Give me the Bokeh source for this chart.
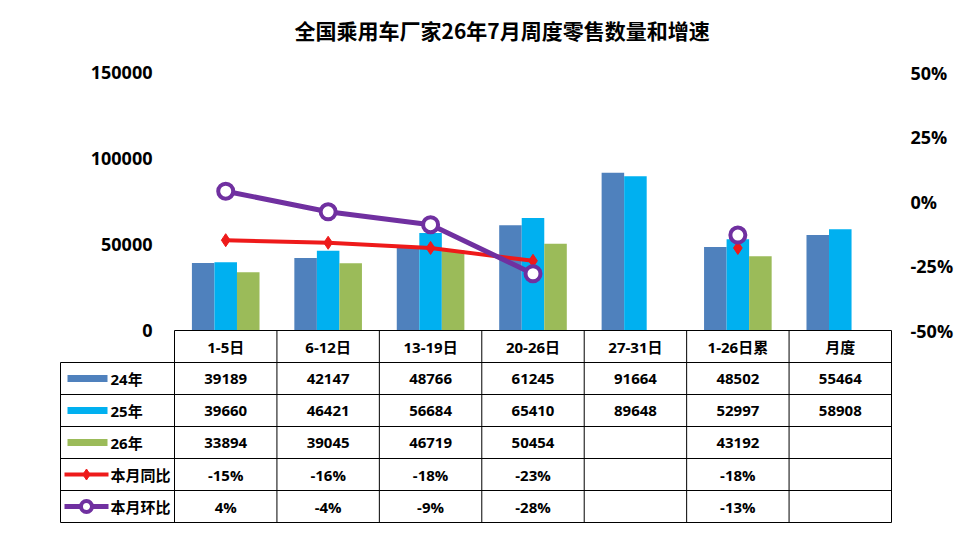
import math
from bokeh.plotting import figure
from bokeh.models import (Range1d, LinearAxis, FixedTicker, ColumnDataSource,
                          CustomJSTickFormatter, NumeralTickFormatter)
from bokeh.core.properties import value
from bokeh.embed import file_html
from bokeh.resources import INLINE

# ---------------- data ----------------
categories = ["1-5日", "6-12日", "13-19日", "20-26日", "27-31日", "1-26日累", "月度"]
series_names = ["24年", "25年", "26年"]
sales_24 = [39189, 42147, 48766, 61245, 91664, 48502, 55464]
sales_25 = [39660, 46421, 56684, 65410, 89648, 52997, 58908]
sales_26 = [33894, 39045, 46719, 50454, None, 43192, None]
yoy_pct = [-15, -16, -18, -23, None, -18, None]     # 本月同比
mom_pct = [4, -4, -9, -28, None, -13, None]          # 本月环比
line_names = ["本月同比", "本月环比"]
left_ticks = [0, 50000, 100000, 150000]
right_ticks = [-50, -25, 0, 25, 50]
title_text = "全国乘用车厂家26年7月周度零售数量和增速"

# ---------------- style / geometry (pixels) ----------------
C24, C25, C26 = "#4F81BD", "#00B0F0", "#9BBB59"
RED, PURPLE = "#EE1A1A", "#7030A0"
NUM_FONT = "'Open Sans', 'Noto Sans CJK SC', sans-serif"
CJK_FONT = "'Noto Sans CJK SC', sans-serif"

W, H = 961, 533
X0, X_END = 174, 891            # category area
NCAT = len(categories)
CW = (X_END - X0) / NCAT
Y_BASE, Y_TOP = 330, 72         # value 0 and value 150000
ROW = 32
NROWS = 6
FL, FR, FT, FB = 56, 894, 50, 524
YMAX = left_ticks[-1]
VPP = YMAX / (Y_BASE - Y_TOP)
PPP = (right_ticks[-1] - right_ticks[0]) / (Y_BASE - Y_TOP)


def xd(px):
    return (px - X0) / CW


p = figure(width=W, height=H, output_backend="svg", toolbar_location=None,
           x_range=Range1d(xd(FL), xd(FR)),
           y_range=Range1d(-(FB - Y_BASE) * VPP, YMAX + (Y_TOP - FT) * VPP),
           min_border_left=FL, min_border_right=W - FR,
           min_border_top=FT, min_border_bottom=H - FB,
           x_axis_location=None, y_axis_location="left")
p.extra_y_ranges = {
    "pct": Range1d(right_ticks[0] - (FB - Y_BASE) * PPP, right_ticks[-1] + (Y_TOP - FT) * PPP),
    "tbl": Range1d((FB - Y_BASE) / ROW, -(Y_BASE - FT) / ROW),
}
p.grid.visible = False
p.outline_line_color = None
p.background_fill_color = "white"
p.border_fill_color = "white"

# title
p.title.text = title_text
p.title.text_font = CJK_FONT
p.title.text_font_size = "21px"
p.title.text_font_style = "bold"
p.title.text_color = "black"
p.title.align = "left"
p.title.offset = 294 - FL
p.title.standoff = 11

# left axis
ax = p.yaxis[0]
ax.ticker = FixedTicker(ticks=left_ticks)
ax.formatter = NumeralTickFormatter(format="0")
ax.fixed_location = 0
ax.axis_line_color = None
ax.major_tick_line_color = None
ax.minor_tick_line_color = None
ax.major_tick_out = 0
ax.major_tick_in = 0
ax.major_label_standoff = X0 - 152
ax.major_label_text_font = NUM_FONT
ax.major_label_text_font_size = "18px"
ax.major_label_text_font_style = "bold"
ax.major_label_text_color = "black"

# right axis
rax = LinearAxis(y_range_name="pct", ticker=FixedTicker(ticks=right_ticks),
                 formatter=CustomJSTickFormatter(code="return tick + '%';"))
rax.axis_line_color = None
rax.major_tick_line_color = None
rax.minor_tick_line_color = None
rax.major_tick_out = 0
rax.major_tick_in = 0
rax.major_label_standoff = 910 - FR
rax.major_label_text_font = NUM_FONT
rax.major_label_text_font_size = "18px"
rax.major_label_text_font_style = "bold"
rax.major_label_text_color = "black"
p.add_layout(rax, "right")

# ---------------- bars ----------------
BW = 0.22
for k, (vals, col) in enumerate(zip([sales_24, sales_25, sales_26], [C24, C25, C26])):
    xs = [i + 0.5 + (k - 1) * BW for i, v in enumerate(vals) if v is not None]
    ts = [v for v in vals if v is not None]
    p.vbar(x=xs, top=ts, bottom=0, width=BW, fill_color=col, line_color=None)

# ---------------- lines ----------------
def nanify(a):
    return [float("nan") if v is None else v for v in a]

xc = [i + 0.5 for i in range(NCAT)]
p.line(xc, nanify(yoy_pct), y_range_name="pct", line_color=RED, line_width=4)
p.scatter([x for x, v in zip(xc, yoy_pct) if v is not None], [v for v in yoy_pct if v is not None],
          y_range_name="pct", marker="diamond", size=13, fill_color=RED, line_color=RED)
p.line(xc, nanify(mom_pct), y_range_name="pct", line_color=PURPLE, line_width=5)
p.scatter([x for x, v in zip(xc, mom_pct) if v is not None], [v for v in mom_pct if v is not None],
          y_range_name="pct", marker="circle", size=15, fill_color="white", line_color=PURPLE, line_width=4)

# ---------------- table ----------------
XL = xd(60)
hx0 = [0] + [XL] * NROWS
hx1 = [NCAT] * (NROWS + 1)
hy = list(range(NROWS + 1))
p.segment(x0=hx0, y0=hy, x1=hx1, y1=hy, y_range_name="tbl", line_color="black", line_width=1)
vx = [XL] + list(range(NCAT + 1))
vy0 = [1] + [0] * (NCAT + 1)
vy1 = [NROWS] * (NCAT + 2)
p.segment(x0=vx, y0=vy0, x1=vx, y1=vy1, y_range_name="tbl", line_color="black", line_width=1)

tx, ty, tt = [], [], []
for i, c in enumerate(categories):
    tx.append(i + 0.5); ty.append(0.5); tt.append(c)
for r, vals in enumerate([sales_24, sales_25, sales_26]):
    for i, v in enumerate(vals):
        if v is not None:
            tx.append(i + 0.5); ty.append(r + 1.5); tt.append(str(v))
for r, vals in enumerate([yoy_pct, mom_pct]):
    for i, v in enumerate(vals):
        if v is not None:
            tx.append(i + 0.5); ty.append(r + 4.5); tt.append(f"{v}%")
src = ColumnDataSource(dict(x=tx, y=ty, t=tt))
p.text(x="x", y="y", text="t", source=src, y_range_name="tbl",
       text_align="center", text_baseline="middle", text_font=value(NUM_FONT),
       text_font_size="15px", text_font_style="bold", text_color="black")

lab_names = series_names + line_names
p.text(x=[xd(110)] * len(lab_names), y=[r + 1.5 for r in range(len(lab_names))], text=lab_names,
       y_range_name="tbl", text_align="left", text_baseline="middle",
       text_font=value(NUM_FONT), text_font_size="15px", text_font_style="bold", text_color="black")

sw_h = 7 / ROW
p.quad(left=[xd(67)] * 3, right=[xd(107)] * 3,
       bottom=[r + 1.5 + sw_h / 2 for r in range(3)], top=[r + 1.5 - sw_h / 2 for r in range(3)],
       y_range_name="tbl", fill_color=[C24, C25, C26], line_color=None)
p.segment(x0=[xd(64)] * 2, x1=[xd(108)] * 2, y0=[4.5, 5.5], y1=[4.5, 5.5], y_range_name="tbl",
          line_color=[RED, PURPLE], line_width=[4, 5])
p.scatter([xd(86)], [4.5], y_range_name="tbl", marker="diamond", size=11, fill_color=RED, line_color=RED)
p.scatter([xd(86)], [5.5], y_range_name="tbl", marker="circle", size=11, fill_color="white",
          line_color=PURPLE, line_width=4)

open("out.html", "w").write(file_html(p, INLINE))
